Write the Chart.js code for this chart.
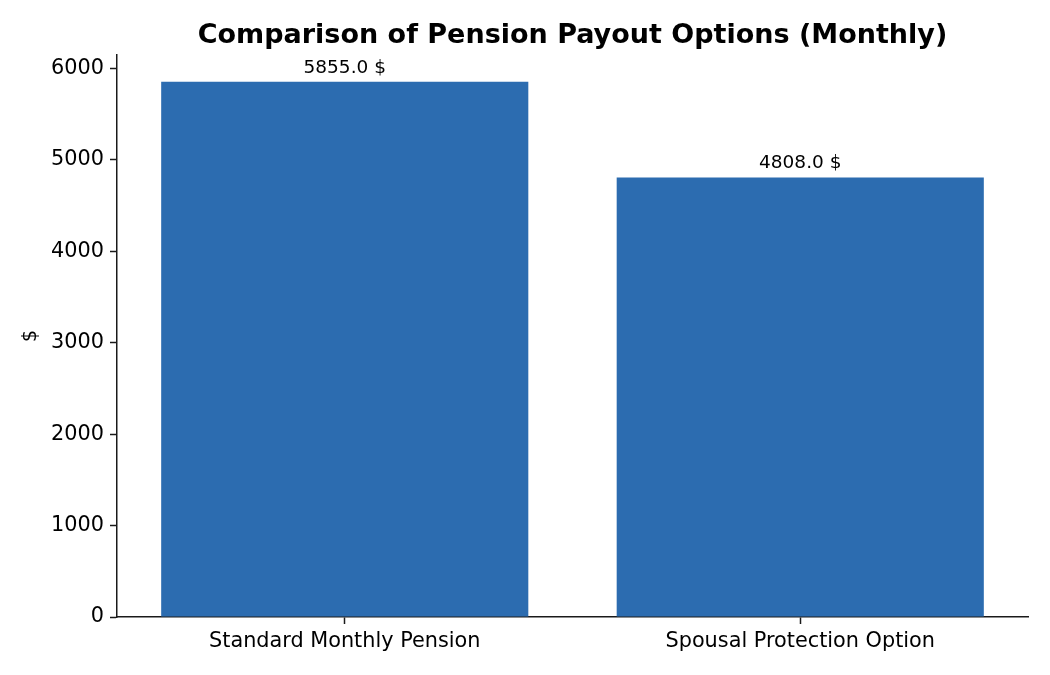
<!DOCTYPE html>
<html>
<head>
<meta charset="utf-8">
<script src="https://cdn.jsdelivr.net/npm/chart.js@4"></script>
<style>
html,body{margin:0;padding:0;background:#fff;}
#wrap{width:1050px;height:675px;}
</style>
</head>
<body>
<div id="wrap"><canvas id="c" width="1050" height="675"></canvas></div>
<script>
const categories = ["Standard Monthly Pension", "Spousal Protection Option"];
const payouts = [5855.0, 4808.0];
const yTicks = [0, 1000, 2000, 3000, 4000, 5000, 6000];
const chartTitle = "Comparison of Pension Payout Options (Monthly)";
const yLabel = "$";
const unit = "$";

const FONT = "'DejaVu Sans', sans-serif";
const BAR_COLOR = "#2c6cb0";
const AXIS_COLOR = "#1a1a1a";

const valueLabels = {
  id: 'valueLabels',
  afterDatasetsDraw(chart) {
    const ctx = chart.ctx;
    const meta = chart.getDatasetMeta(0);
    ctx.save();
    ctx.font = "18.5px " + FONT;
    ctx.fillStyle = "#000";
    ctx.textAlign = "center";
    ctx.textBaseline = "alphabetic";
    meta.data.forEach((bar, i) => {
      ctx.fillText(payouts[i].toFixed(1) + " " + unit, bar.x, bar.y - 9);
    });
    ctx.restore();
  }
};

const centeredTitle = {
  id: 'centeredTitle',
  afterDraw(chart) {
    const ctx = chart.ctx;
    const a = chart.chartArea;
    ctx.save();
    ctx.font = "bold 27px " + FONT;
    ctx.fillStyle = "#000";
    ctx.textAlign = "center";
    ctx.textBaseline = "alphabetic";
    ctx.fillText(chartTitle, (a.left + a.right) / 2, 43);
    ctx.restore();
  }
};

new Chart(document.getElementById('c'), {
  type: 'bar',
  data: {
    labels: categories,
    datasets: [{
      data: payouts,
      backgroundColor: BAR_COLOR,
      borderWidth: 0,
      barPercentage: 0.806,
      categoryPercentage: 1.0
    }]
  },
  options: {
    responsive: false,
    animation: false,
    devicePixelRatio: 1,
    layout: { padding: { left: 0, right: 22, top: 55, bottom: 0 } },
    plugins: {
      legend: { display: false },
      tooltip: { enabled: false },
      title: { display: false }
    },
    scales: {
      x: {
        offset: true,
        grid: { display: true, offset: false, drawOnChartArea: false, drawTicks: true, tickLength: 7, tickColor: AXIS_COLOR, tickWidth: 1.5 },
        border: { display: true, color: AXIS_COLOR, width: 1.5 },
        ticks: { color: "#000", font: { family: FONT, size: 20.8 }, padding: 5, maxRotation: 0 },
        afterFit(scale) { scale.height = 58; }
      },
      y: {
        min: 0,
        max: 5855 * 1.05,
        afterBuildTicks(scale) { scale.ticks = yTicks.map(v => ({ value: v })); },
        grid: { display: true, drawOnChartArea: false, drawTicks: true, tickLength: 7, tickColor: AXIS_COLOR, tickWidth: 1.5 },
        border: { display: true, color: AXIS_COLOR, width: 1.5 },
        ticks: { color: "#000", font: { family: FONT, size: 20.8 }, padding: 6, callback: (v) => String(v) },
        title: {
          display: true,
          text: yLabel,
          color: "#000",
          font: { family: FONT, size: 19 },
          padding: { top: 20, bottom: 0 }
        },
        afterFit(scale) { scale.width = 117; }
      }
    }
  },
  plugins: [valueLabels, centeredTitle]
});
</script>
</body>
</html>
